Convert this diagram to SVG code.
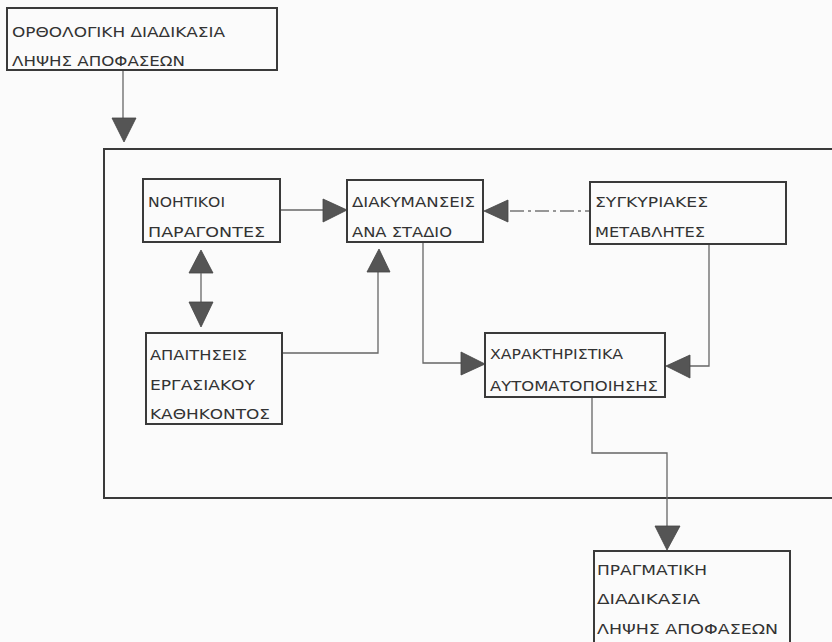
<svg xmlns="http://www.w3.org/2000/svg" width="832" height="642" viewBox="0 0 832 642">
<style>
.bg{fill:#fbfbfb}
.box{fill:none;stroke:#3a3a3a;stroke-width:2}
.frame{fill:none;stroke:#3a3a3a;stroke-width:2}
.t{font-family:"DejaVu Sans","Liberation Sans",sans-serif;font-size:14px;fill:#333}
.ln{fill:none;stroke:#666;stroke-width:1.3}
.dd{fill:none;stroke:#777;stroke-width:1.3;stroke-dasharray:14 4 3 4}
.ah{fill:#555;stroke:#444;stroke-width:0.8}
</style>
<rect class="bg" x="0" y="0" width="832" height="642"/>
<rect class="frame" x="104" y="149" width="740" height="349"/>
<g id="connectors">
<line class="ln" x1="123" y1="70" x2="123" y2="118"/>
<polygon class="ah" points="112,118 136,118 124,142"/>
<line class="ln" x1="280" y1="210" x2="323" y2="210"/>
<polygon class="ah" points="323,199 323,222 347,210"/>
<line class="dd" x1="510" y1="211" x2="590" y2="211"/>
<polygon class="ah" points="508,200 508,222 484,211"/>
<polygon class="ah" points="189,273 213,273 201,250"/>
<line class="ln" x1="201" y1="273" x2="201" y2="302"/>
<polygon class="ah" points="189,302 213,302 201,327"/>
<polyline class="ln" points="282,353 378,353 378,272"/>
<polygon class="ah" points="367,272 390,272 379,249"/>
<polyline class="ln" points="423,242 423,363 461,363"/>
<polygon class="ah" points="461,352 461,375 485,364"/>
<polyline class="ln" points="709,244 709,366 690,366"/>
<polygon class="ah" points="690,355 690,378 666,366"/>
<polyline class="ln" points="592,397 592,453 667,453 667,526"/>
<polygon class="ah" points="655,526 680,526 667,550"/>
</g>
<g id="n-orthologiki">
<rect class="box" x="7" y="8" width="270" height="62"/>
<text class="t" x="12" y="37" textLength="213" lengthAdjust="spacingAndGlyphs">ΟΡΘΟΛΟΓΙΚΗ ΔΙΑΔΙΚΑΣΙΑ</text>
<text class="t" x="12" y="66" textLength="173" lengthAdjust="spacingAndGlyphs">ΛΗΨΗΣ ΑΠΟΦΑΣΕΩΝ</text>
</g>
<g id="n-noitikoi">
<rect class="box" x="143" y="179" width="137" height="63"/>
<text class="t" x="148" y="207" textLength="77" lengthAdjust="spacingAndGlyphs">ΝΟΗΤΙΚΟΙ</text>
<text class="t" x="148" y="237" textLength="117" lengthAdjust="spacingAndGlyphs">ΠΑΡΑΓΟΝΤΕΣ</text>
</g>
<g id="n-diakymanseis">
<rect class="box" x="347" y="180" width="136" height="62"/>
<text class="t" x="352" y="207" textLength="123" lengthAdjust="spacingAndGlyphs">ΔΙΑΚΥΜΑΝΣΕΙΣ</text>
<text class="t" x="352" y="237" textLength="100" lengthAdjust="spacingAndGlyphs">ΑΝΑ ΣΤΑΔΙΟ</text>
</g>
<g id="n-sygkyriakes">
<rect class="box" x="590" y="182" width="196" height="62"/>
<text class="t" x="595" y="207" textLength="113" lengthAdjust="spacingAndGlyphs">ΣΥΓΚΥΡΙΑΚΕΣ</text>
<text class="t" x="595" y="237" textLength="110" lengthAdjust="spacingAndGlyphs">ΜΕΤΑΒΛΗΤΕΣ</text>
</g>
<g id="n-apaitiseis">
<rect class="box" x="146" y="333" width="136" height="91"/>
<text class="t" x="150" y="360" textLength="97" lengthAdjust="spacingAndGlyphs">ΑΠΑΙΤΗΣΕΙΣ</text>
<text class="t" x="150" y="390" textLength="105" lengthAdjust="spacingAndGlyphs">ΕΡΓΑΣΙΑΚΟΥ</text>
<text class="t" x="150" y="419" textLength="120" lengthAdjust="spacingAndGlyphs">ΚΑΘΗΚΟΝΤΟΣ</text>
</g>
<g id="n-xaraktiristika">
<rect class="box" x="485" y="333" width="180" height="64"/>
<text class="t" x="490" y="359" textLength="133" lengthAdjust="spacingAndGlyphs">ΧΑΡΑΚΤΗΡΙΣΤΙΚΑ</text>
<text class="t" x="490" y="391" textLength="168" lengthAdjust="spacingAndGlyphs">ΑΥΤΟΜΑΤΟΠΟΙΗΣΗΣ</text>
</g>
<g id="n-pragmatiki">
<rect class="box" x="594" y="551" width="196" height="100"/>
<text class="t" x="597" y="575" textLength="110" lengthAdjust="spacingAndGlyphs">ΠΡΑΓΜΑΤΙΚΗ</text>
<text class="t" x="597" y="604" textLength="103" lengthAdjust="spacingAndGlyphs">ΔΙΑΔΙΚΑΣΙΑ</text>
<text class="t" x="597" y="634" textLength="181" lengthAdjust="spacingAndGlyphs">ΛΗΨΗΣ ΑΠΟΦΑΣΕΩΝ</text>
</g>
</svg>
